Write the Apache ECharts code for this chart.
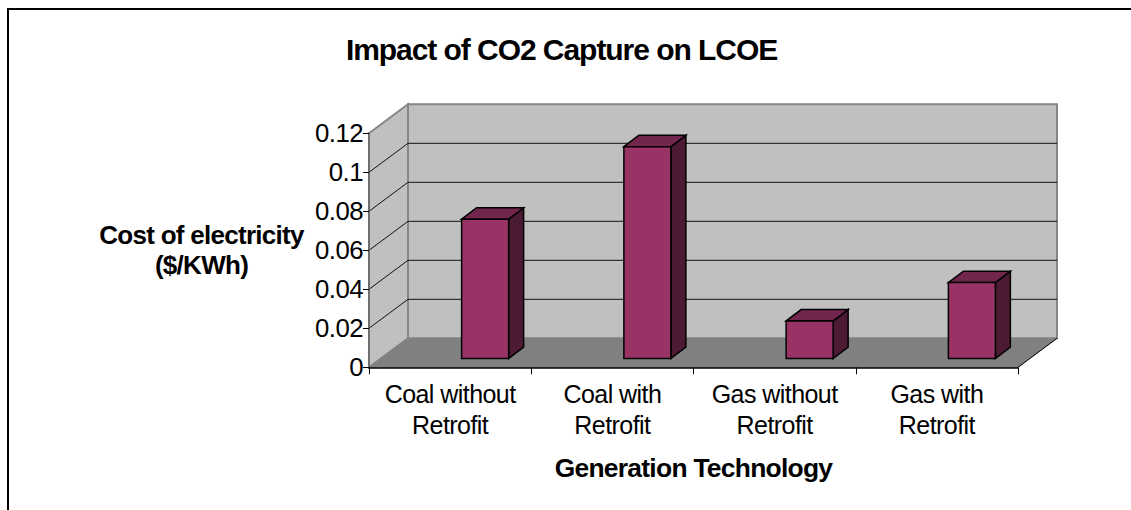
<!DOCTYPE html>
<html><head><meta charset="utf-8">
<style>
html,body{margin:0;padding:0;background:#fff;}
#c{width:1131px;height:510px;}
#c text{letter-spacing:-0.55px;}
#c text[style*="30px"]{letter-spacing:-1.05px;}
#c text[style*="26px"],#c text[style*="26.4px"]{letter-spacing:-0.72px;}
</style>
<script src="https://cdn.jsdelivr.net/npm/echarts@6/dist/echarts.min.js"></script>
</head><body><div id="c"></div>
<script>
const titleText = 'Impact of CO2 Capture on LCOE';
const yAxisTitle = 'Cost of electricity\n($/KWh)';
const xAxisTitle = 'Generation Technology';
const categories = ['Coal without\nRetrofit','Coal with\nRetrofit','Gas without\nRetrofit','Gas with\nRetrofit'];
const costValues = [0.0715,0.1087,0.0193,0.039];
const yMax = 0.12, yStep = 0.02;
const yTicks = [0,0.02,0.04,0.06,0.08,0.1,0.12];

const DEPTH_X = 39, DEPTH_Y = -29;          // full floor depth in pixels
const BAR_SHIFT_X = 35, BAR_SHIFT_Y = -8.7; // projected shift of a bar's front face
const BAR_SIDE_X = 15, BAR_SIDE_Y = -11.4;  // projected depth of a bar
const BAR_WIDTH = 47;
const FONT = '"Liberation Sans", Arial, sans-serif';

const chart = echarts.init(document.getElementById('c'), null, {renderer:'svg'});

function pts(arr){ return {points:arr}; }

function renderWalls(params, api){
  const first = api.coord([0,0]);
  const band = api.size([1,0])[0];
  const x0 = first[0]-band/2, y0 = first[1];
  const x1 = x0+band*categories.length;
  const yT = api.coord([0,yMax])[1];
  const d = ([x,y])=>[x+DEPTH_X,y+DEPTH_Y];
  const kids = [];
  const wall = {fill:'#c0c0c0',stroke:'#868686',lineWidth:2,lineJoin:'miter'};
  kids.push({type:'polygon',shape:pts([d([x0,yT]),d([x1,yT]),d([x1,y0]),d([x0,y0])]),style:wall});
  kids.push({type:'polygon',shape:pts([[x0,yT],d([x0,yT]),d([x0,y0]),[x0,y0]]),style:wall});
  kids.push({type:'polygon',shape:pts([[x0,y0],[x1,y0],d([x1,y0]),d([x0,y0])]),
    style:{fill:'#808080',stroke:'#808080',lineWidth:1}});
  yTicks.forEach(t=>{
    if(t===0||t===yMax) return;
    const y=api.coord([0,t])[1];
    kids.push({type:'polyline',shape:pts([[x0,y],d([x0,y]),d([x1,y])]),
      style:{fill:null,stroke:'#111',lineWidth:1}});
  });
  kids.push({type:'line',shape:{x1:x1,y1:y0,x2:x1+DEPTH_X,y2:y0+DEPTH_Y},style:{stroke:'#000',lineWidth:1}});
  return {type:'group',children:kids};
}

function renderBar(params, api){
  const idx = api.value(0), v = api.value(1);
  const [cx,yb] = api.coord([idx,0]);
  const yt = api.coord([idx,v])[1];
  const w = BAR_WIDTH/2;
  const sx=BAR_SIDE_X, sy=BAR_SIDE_Y;
  const l=cx-w+BAR_SHIFT_X, r=cx+w+BAR_SHIFT_X, b=yb+BAR_SHIFT_Y, t=yt+BAR_SHIFT_Y;
  const st={stroke:'#000',lineWidth:1.5,lineJoin:'miter'};
  return {type:'group',children:[
    {type:'polygon',shape:pts([[r,t],[r+sx,t+sy],[r+sx,b+sy],[r,b]]),style:{...st,fill:'#4d1a33'}},
    {type:'polygon',shape:pts([[l,t],[l+sx,t+sy],[r+sx,t+sy],[r,t]]),style:{...st,fill:'#73264d'}},
    {type:'polygon',shape:pts([[l,t],[r,t],[r,b],[l,b]]),style:{...st,fill:'#993366'}}
  ]};
}

chart.setOption({
  animation:false,
  backgroundColor:'#fff',
  title:{text:titleText,left:556.5,top:29,textAlign:'center',
    textStyle:{fontFamily:FONT,fontSize:30,fontWeight:'bold',color:'#000'}},
  grid:{left:369,top:133.3,width:649,height:234},
  xAxis:{type:'category',data:categories,z:5,
    name:xAxisTitle,nameLocation:'middle',nameGap:88,nameMoveOverlap:false,
    nameTextStyle:{fontFamily:FONT,fontSize:26.4,fontWeight:'bold',color:'#000'},
    axisLine:{lineStyle:{color:'#000',width:1.5}},
    axisTick:{show:true,length:7,lineStyle:{color:'#000',width:1}},
    axisLabel:{fontFamily:FONT,fontSize:25,color:'#000',lineHeight:31,margin:11,interval:0},
    splitLine:{show:false}},
  yAxis:{type:'value',min:0,max:yMax,interval:yStep,z:5,
    name:yAxisTitle,nameLocation:'middle',nameGap:167.5,nameRotate:0,nameMoveOverlap:false,
    nameTextStyle:{fontFamily:FONT,fontSize:26,fontWeight:'bold',color:'#000',lineHeight:30,align:'center',verticalAlign:'middle',padding:[0,0,2,0]},
    axisLine:{show:true,lineStyle:{color:'#666',width:1.5}},
    axisTick:{show:true,length:6,lineStyle:{color:'#000',width:1}},
    axisLabel:{fontFamily:FONT,fontSize:25.8,color:'#000',margin:6,
      formatter:v=>String(+v.toFixed(2))},
    splitLine:{show:false}},
  series:[
    {type:'custom',data:[[0,0]],renderItem:renderWalls,z:1,silent:true,clip:false},
    {type:'custom',data:costValues.map((v,i)=>[i,v]),encode:{x:0,y:1},renderItem:renderBar,z:2,clip:false}
  ],
  graphic:[{type:'polyline',shape:{points:[[8,510],[8,9],[1131,9]]},style:{fill:null,stroke:'#000',lineWidth:2}}]
});
</script></body></html>
